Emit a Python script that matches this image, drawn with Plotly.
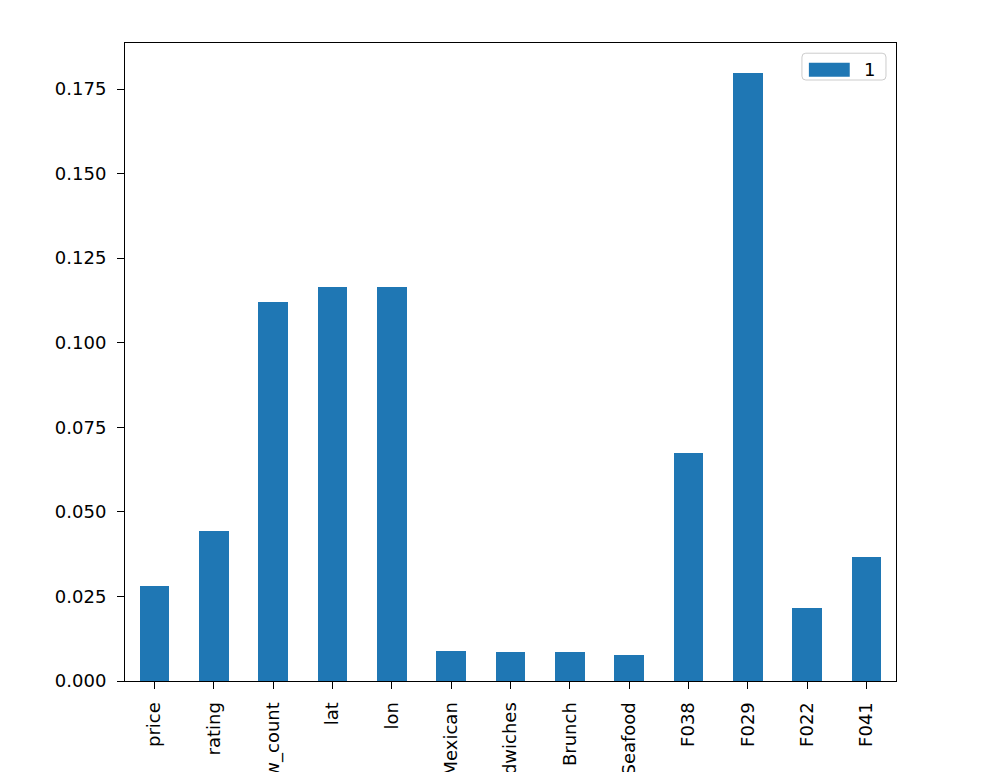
import plotly.graph_objects as go

features = ["price", "rating", "review_count", "lat", "lon", "Mexican", "Sandwiches",
            "Brunch", "Seafood", "F038", "F029", "F022", "F041"]
importance = [0.0281, 0.0444, 0.1121, 0.1166, 0.1164, 0.00887, 0.00848,
              0.00867, 0.0076, 0.0675, 0.1796, 0.0215, 0.0366]
series_name = "1"
y_ticks = [0.0, 0.025, 0.05, 0.075, 0.1, 0.125, 0.15, 0.175]
bar_color = "#1f77b4"

fig = go.Figure()
fig.add_trace(go.Bar(
    x=list(range(len(features))), y=importance, name=series_name,
    width=0.5, marker=dict(color=bar_color, line=dict(width=0)),
    showlegend=False,
))

FS = 18
font = dict(family="DejaVu Sans", size=FS, color="black")
fig.update_layout(
    width=996, height=772,
    margin=dict(l=125, r=100, t=43, b=91),
    paper_bgcolor="white", plot_bgcolor="white",
    font=font,
    bargap=0,
    showlegend=False,
)

# legend box (matplotlib style) in paper coordinates
bx0, bx1, by0, by1 = 0.878, 0.987, 0.942, 0.984
rx, ry = 0.005, 0.006
path = (f"M{bx0+rx},{by0} L{bx1-rx},{by0} Q{bx1},{by0} {bx1},{by0+ry} "
        f"L{bx1},{by1-ry} Q{bx1},{by1} {bx1-rx},{by1} L{bx0+rx},{by1} "
        f"Q{bx0},{by1} {bx0},{by1-ry} L{bx0},{by0+ry} Q{bx0},{by0} {bx0+rx},{by0} Z")
fig.add_shape(type="path", path=path, xref="paper", yref="paper",
              line=dict(color="#cccccc", width=1), fillcolor="rgba(255,255,255,0.8)")
fig.add_shape(type="rect", xref="paper", yref="paper", x0=0.887, x1=0.940, y0=0.947, y1=0.969,
              line=dict(width=0), fillcolor=bar_color)
fig.add_annotation(x=0.956, y=0.958, xref="paper", yref="paper", text=series_name,
                   showarrow=False, xanchor="left", yanchor="middle",
                   font=dict(family="DejaVu Sans", size=FS, color="black"))

fig.update_xaxes(
    range=[-0.5, len(features) - 0.5],
    tickmode="array", tickvals=list(range(len(features))), ticktext=features,
    tickangle=-90, ticks="outside", ticklen=7, tickwidth=1, tickcolor="black",
    showline=True, linecolor="black", linewidth=1, mirror=True,
    showgrid=False, zeroline=False, automargin=False, ticklabelstandoff=6,
)
fig.update_yaxes(
    range=[0, 0.1886],
    tickmode="array", tickvals=y_ticks, ticktext=[f"{v:.3f}" for v in y_ticks],
    ticks="outside", ticklen=7, tickwidth=1, tickcolor="black",
    showline=True, linecolor="black", linewidth=1, mirror=True,
    showgrid=False, zeroline=False, automargin=False, ticklabelstandoff=7,
)

fig.write_html("out.html")
